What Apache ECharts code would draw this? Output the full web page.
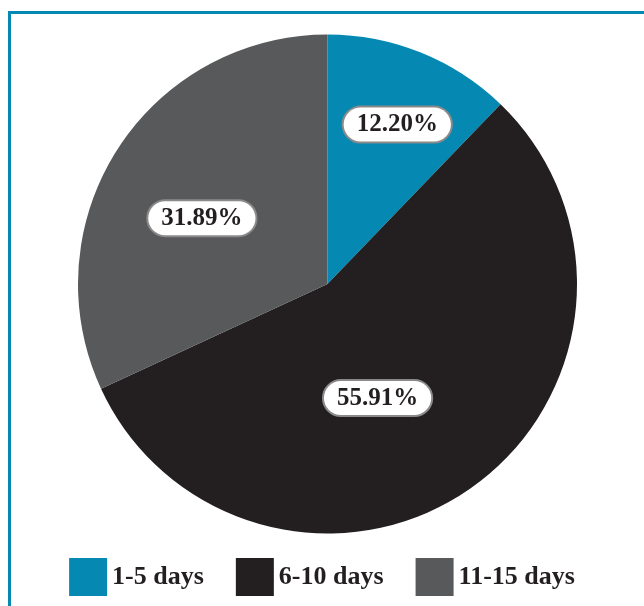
<!DOCTYPE html>
<html>
<head>
<meta charset="utf-8">
<script src="https://cdn.jsdelivr.net/npm/echarts@6/dist/echarts.min.js"></script>
<style>
  html, body { margin: 0; padding: 0; background: #fff; }
  #chart { width: 644px; height: 606px; }
</style>
</head>
<body>
<div id="chart"></div>
<script>
const categories = ['1-5 days', '6-10 days', '11-15 days'];
const shares = [12.20, 55.91, 31.89];
const colors = ['#0589b3', '#231f20', '#58595b'];
// nudges from the default inside label spot
const labelOffsets = [[22, -41], [-24, 10], [-18, 3]];

const chart = echarts.init(document.getElementById('chart'), null, { renderer: 'canvas' });

const font = '"Liberation Serif", "DejaVu Serif", serif';

const option = {
  animation: false,
  color: colors,
  graphic: [{
    type: 'rect',
    shape: { x: 9.5, y: 12.5, width: 700, height: 700 },
    style: { fill: 'none', stroke: '#0589b3', lineWidth: 3 },
    silent: true
  }],
  legend: {
    top: 553,
    left: 'center',
    itemWidth: 38,
    itemHeight: 38,
    itemGap: 32,
    icon: 'rect',
    data: categories,
    textStyle: {
      fontFamily: font,
      fontWeight: 'bold',
      fontSize: 26,
      color: '#231f20'
    }
  },
  series: [{
    type: 'pie',
    center: [327.5, 284],
    radius: 249.5,
    startAngle: 90,
    clockwise: true,
    label: {
      show: true,
      position: 'inside',
      formatter: p => p.value.toFixed(2) + '%',
      fontFamily: font,
      fontWeight: 'bold',
      fontSize: 25,
      color: '#231f20',
      backgroundColor: '#fff',
      borderColor: '#8a8a8a',
      borderWidth: 2,
      borderRadius: 18,
      padding: [5, 13, 4, 13]
    },
    labelLine: { show: false },
    emphasis: { disabled: true },
    data: categories.map((name, i) => ({
      name: name,
      value: shares[i],
      label: { offset: labelOffsets[i] }
    }))
  }]
};

chart.setOption(option);
</script>
</body>
</html>
